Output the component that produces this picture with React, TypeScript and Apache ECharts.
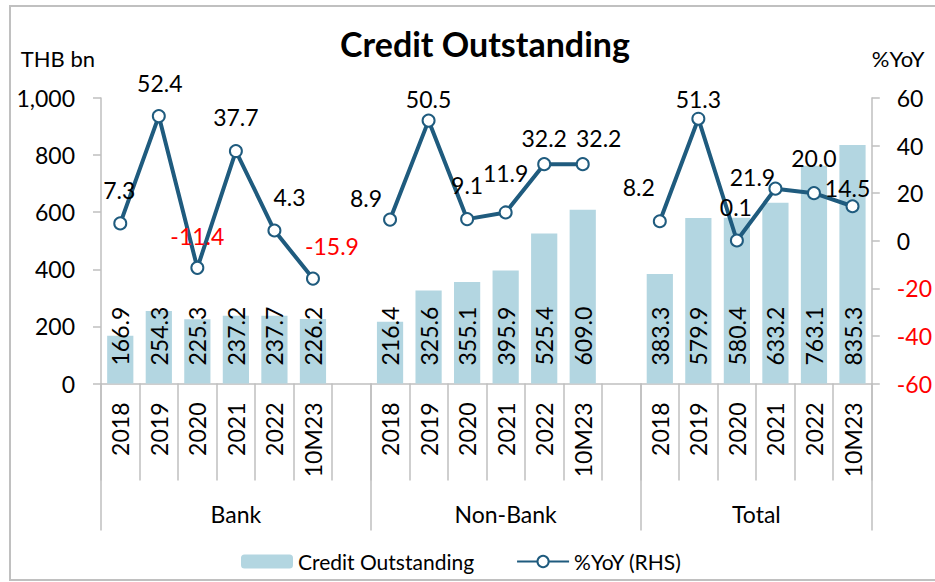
import React, { useEffect, useRef } from "react";
import * as echarts from "echarts";

const categories = [
  "2018", "2019", "2020", "2021", "2022", "10M23", "",
  "2018", "2019", "2020", "2021", "2022", "10M23", "",
  "2018", "2019", "2020", "2021", "2022", "10M23",
];
const creditOutstanding = [
  166.9, 254.3, 225.3, 237.2, 237.7, 226.2, null,
  216.4, 325.6, 355.1, 395.9, 525.4, 609.0, null,
  383.3, 579.9, 580.4, 633.2, 763.1, 835.3,
];
const yoy = [
  7.3, 52.4, -11.4, 37.7, 4.3, -15.9, null,
  8.9, 50.5, 9.1, 11.9, 32.2, 32.2, null,
  8.2, 51.3, 0.1, 21.9, 20.0, 14.5,
];
// label nudges relative to each point (dx, dy)
const yoyLabelOffsets: [number, number][] = [
  [-1, -33], [1, -33], [0, -32], [0, -34], [15, -34], [19, -33], [0, 0],
  [-24, -22], [0, -22], [0, -34], [0, -39], [0, -26], [16, -26], [0, 0],
  [-21, -34], [0, -20], [-1, -34], [-23, -12], [0, -35], [-5, -18],
];
const groups = ["Bank", "Non-Bank", "Total"];
const groupStartIdx = [0, 7, 14];
const groupLabelIdx = [3, 10, 16];
const leftTicks = { min: 0, max: 1000, interval: 200 };
const rightTicks = { min: -60, max: 60, interval: 20 };

const FONT = "Lato";
const FS = 23;
const BAR_COLOR = "#b3d6e1";
const LINE_COLOR = "#1f5b7e";
const AXIS_GRAY = "#bfbfbf";

export default function App() {
  const ref = useRef<HTMLDivElement>(null);

  useEffect(() => {
    if (!ref.current) return;
    const chart = echarts.init(ref.current, null, { renderer: "svg" });

    const groupAxisData: any[] = categories.map(() => "");
    groups.forEach((g, i) => {
      groupAxisData[groupLabelIdx[i]] =
        g === "Total" ? { value: g, textStyle: { padding: [0, 0, 0, 39] } } : g;
    });

    const option: any = {
      animation: false,
      textStyle: { fontFamily: FONT },
      title: {
        text: "Credit Outstanding",
        left: 480,
        top: 21,
        textAlign: "center",
        textStyle: { fontFamily: FONT, fontSize: 34, fontWeight: "bold", color: "#000" },
      },
      graphic: [
        {
          type: "rect",
          z: -1,
          shape: { x: 10, y: 6, width: 940, height: 574 },
          style: { fill: "none", stroke: "#c0c0c0", lineWidth: 2 },
        },
      ],
      legend: {
        left: 236,
        top: 546,
        itemWidth: 52,
        itemHeight: 14,
        itemGap: 42,
        textStyle: { fontFamily: FONT, fontSize: 21, color: "#000" },
        data: ["Credit Outstanding", "%YoY (RHS)"],
      },
      grid: { left: 101, right: 58, top: 98, bottom: 198.5, containLabel: false },
      xAxis: [
        {
          type: "category",
          data: categories,
          boundaryGap: true,
          axisLine: { onZero: false, lineStyle: { color: AXIS_GRAY, width: 1.5 } },
          axisTick: { show: true, interval: 0, length: 97, lineStyle: { color: AXIS_GRAY, width: 1.5 } },
          axisLabel: {
            interval: 0,
            rotate: 90,
            margin: 19,
            fontFamily: FONT,
            fontSize: FS,
            color: "#000",
          },
        },
        {
          type: "category",
          data: groupAxisData,
          position: "bottom",
          offset: 0,
          boundaryGap: true,
          axisLine: { show: false, onZero: false },
          axisTick: {
            show: true,
            interval: (i: number) => groupStartIdx.includes(i),
            length: 147,
            lineStyle: { color: AXIS_GRAY, width: 1.5 },
          },
          axisLabel: {
            interval: 0,
            margin: 119,
            fontFamily: FONT,
            fontSize: FS,
            color: "#000",
          },
        },
      ],
      yAxis: [
        {
          type: "value",
          ...leftTicks,
          name: "THB bn",
          nameLocation: "end",
          nameGap: 29,
          nameTextStyle: { fontFamily: FONT, fontSize: 22, color: "#000", align: "right", padding: [0, 6, 0, 0] },
          splitLine: { show: false },
          axisLine: { show: true, onZero: false, lineStyle: { color: AXIS_GRAY, width: 1.5 } },
          axisTick: { show: true, length: 8, lineStyle: { color: AXIS_GRAY, width: 1.5 } },
          axisLabel: {
            margin: 26,
            fontFamily: FONT,
            fontSize: FS,
            color: "#000",
            formatter: (v: number) => v.toLocaleString("en-US"),
          },
        },
        {
          type: "value",
          ...rightTicks,
          position: "right",
          name: "%YoY",
          nameLocation: "end",
          nameGap: 29,
          nameTextStyle: { fontFamily: FONT, fontSize: 22, color: "#000", align: "left" },
          splitLine: { show: false },
          axisLine: { show: true, onZero: false, lineStyle: { color: AXIS_GRAY, width: 1.5 } },
          axisTick: { show: true, length: 8, lineStyle: { color: AXIS_GRAY, width: 1.5 } },
          axisLabel: {
            margin: 25,
            fontFamily: FONT,
            fontSize: FS,
            color: (v: any) => (Number(v) < 0 ? "#ff0000" : "#000"),
          },
        },
      ],
      series: [
        {
          name: "Credit Outstanding",
          type: "bar",
          xAxisIndex: 0,
          yAxisIndex: 0,
          barWidth: "68%",
          itemStyle: { color: BAR_COLOR },
          data: creditOutstanding,
          label: {
            show: true,
            position: "insideBottom",
            rotate: 90,
            align: "left",
            verticalAlign: "middle",
            distance: 18,
            fontFamily: FONT,
            fontSize: FS,
            color: "#000",
            formatter: (p: any) => Number(p.value).toFixed(1),
          },
        },
        {
          name: "%YoY (RHS)",
          type: "line",
          xAxisIndex: 0,
          yAxisIndex: 1,
          connectNulls: false,
          symbol: "emptyCircle",
          symbolSize: 12,
          z: 5,
          lineStyle: { color: LINE_COLOR, width: 4 },
          itemStyle: { color: LINE_COLOR, borderWidth: 3.5 },
          data: yoy.map((v, i) =>
            v == null
              ? null
              : {
                  value: v,
                  label: {
                    offset: yoyLabelOffsets[i],
                    color: v < 0 ? "#ff0000" : "#000",
                  },
                }
          ),
          label: {
            show: true,
            position: "inside",
            fontFamily: FONT,
            fontSize: FS,
            formatter: (p: any) => Number(p.value).toFixed(1),
          },
        },
      ],
    };

    chart.setOption(option);
    return () => chart.dispose();
  }, []);

  return (
    <div
      ref={ref}
      style={{ position: "fixed", left: 0, top: 0, width: 935, height: 582, background: "#fff" }}
    />
  );
}
